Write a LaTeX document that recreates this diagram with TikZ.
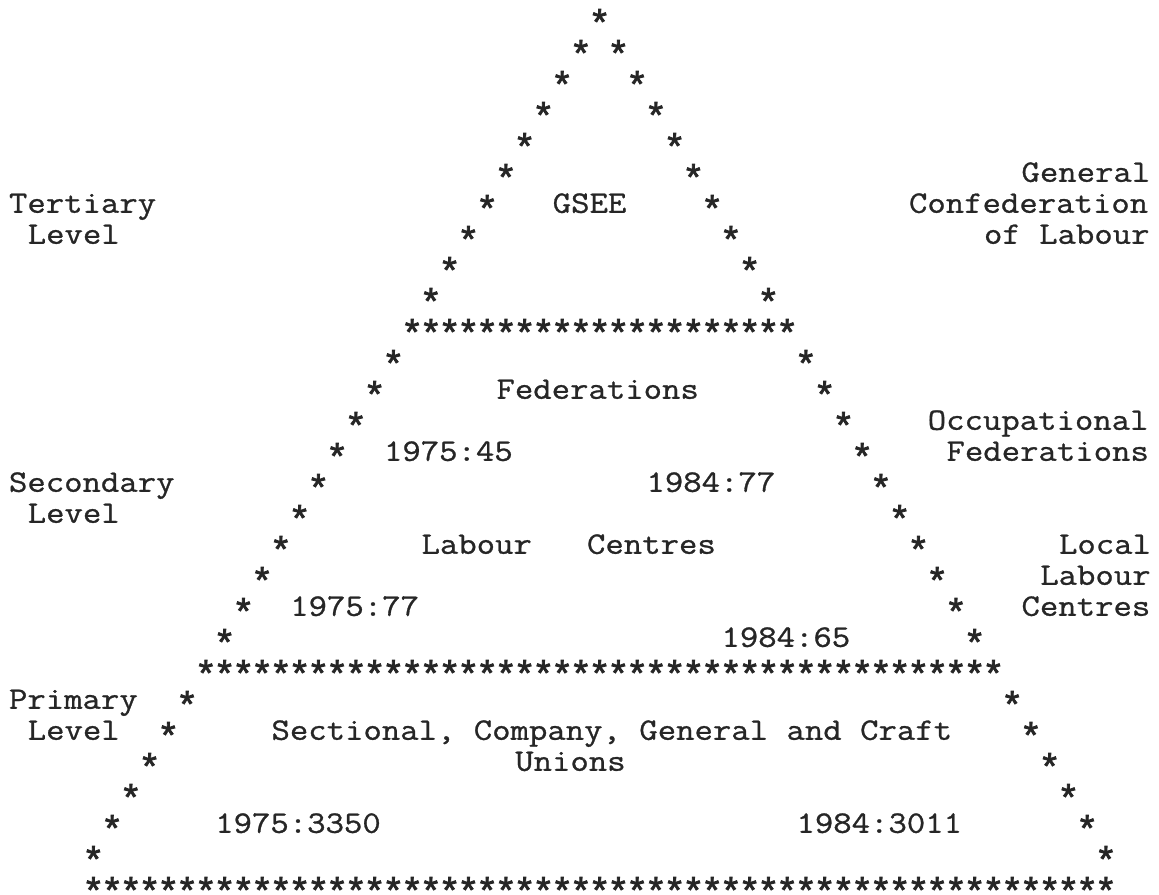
\documentclass[tikz,border=0pt]{standalone}
\usepackage{fontspec}
\newfontfamily\typew{Latin Modern Mono}[FakeStretch=1.143,FakeBold=0.9]
\newfontfamily\starfont{Liberation Mono}[FakeBold=2.2]
\newcommand{\astk}{\raisebox{-0.565em}[0.2em][0.2em]{\makebox[0.5em]{*}}}
\tikzset{
  ink/.style={text=black!85, inner sep=0pt, outer sep=0pt},
  word/.style={ink, font=\typew\fontsize{15.625pt}{16pt}\selectfont, anchor=base west},
  aster/.style={ink, font=\starfont\fontsize{18.5pt}{18.5pt}\selectfont, anchor=center},
}
\begin{document}
\begin{tikzpicture}[x=9.375pt,y=-15.5pt]
\useasboundingbox (-0.48,-0.484) rectangle (61.333,28.355);
\node[aster] (apex) at (31.5,0) {\astk};
\foreach \r in {1,...,27} {
  \node[aster] (l\r) at (31.5-\r,\r) {\astk};
  \node[aster] (r\r) at (31.5+\r,\r) {\astk};
}
\foreach \c in {22,...,40} \node[aster] (t\c) at (\c+0.5,10) {\astk};
\foreach \c in {11,...,51} \node[aster] (s\c) at (\c+0.5,21) {\astk};
\foreach \c in {4,...,58} \node[aster] (p\c) at (\c+0.5,28) {\astk};
\node[word] (gsee) at (29,6.38) {GSEE};
\node[word] (fed) at (26,12.38) {Federations};
\node[word] (fed75) at (20,14.38) {1975:45};
\node[word] (fed84) at (34,15.38) {1984:77};
\node[word] (lab) at (22,17.38) {Labour\ \ \ Centres};
\node[word] (lab75) at (15,19.38) {1975:77};
\node[word] (lab84) at (38,20.38) {1984:65};
\node[word] (unions) at (14,23.38) {Sectional, Company, General and Craft};
\node[word] (unions2) at (27,24.38) {Unions};
\node[word] (un75) at (11,26.38) {1975:3350};
\node[word] (un84) at (42,26.38) {1984:3011};
\node[word] (tert) at (0,6.38) {Tertiary};
\node[word] (tert2) at (1,7.38) {Level};
\node[word] (sec) at (0,15.38) {Secondary};
\node[word] (sec2) at (1,16.38) {Level};
\node[word] (prim) at (0,22.38) {Primary};
\node[word] (prim2) at (1,23.38) {Level};
\node[word] (gcl) at (54,5.38) {General};
\node[word] (gcl2) at (48,6.38) {Confederation};
\node[word] (gcl3) at (52,7.38) {of Labour};
\node[word] (occ) at (49,13.38) {Occupational};
\node[word] (occ2) at (50,14.38) {Federations};
\node[word] (llc) at (56,17.38) {Local};
\node[word] (llc2) at (55,18.38) {Labour};
\node[word] (llc3) at (54,19.38) {Centres};
\end{tikzpicture}
\end{document}
